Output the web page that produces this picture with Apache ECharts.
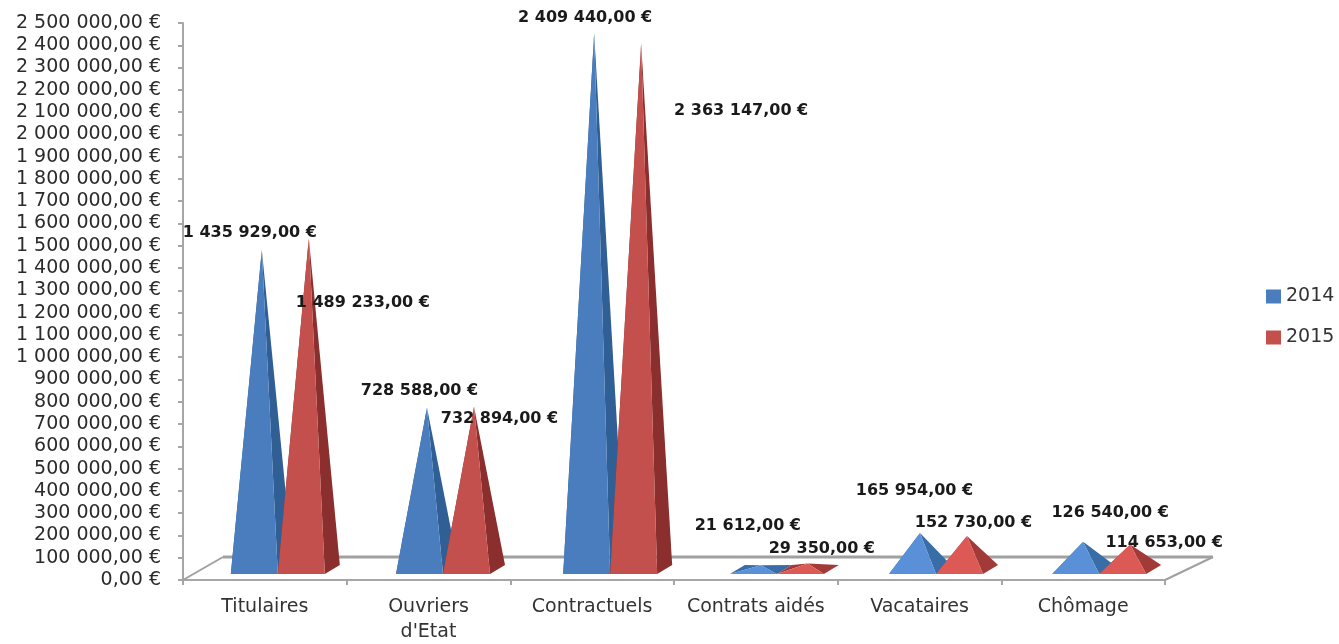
<!DOCTYPE html>
<html>
<head>
<meta charset="utf-8">
<style>html,body{margin:0;padding:0;background:#fff}#c{width:1339px;height:644px}</style>
<script src="https://cdn.jsdelivr.net/npm/echarts@6/dist/echarts.min.js"></script>
</head>
<body>
<div id="c"></div>
<script>
const categories = ['Titulaires', "Ouvriers\nd'Etat", 'Contractuels', 'Contrats aidés', 'Vacataires', 'Chômage'];
const values2014 = [1435929, 728588, 2409440, 21612, 165954, 126540];
const values2015 = [1489233, 732894, 2363147, 29350, 152730, 114653];
// label displacement from (band centre, value height), in px
const labelShift2014 = [[-15, -27], [-9, -27], [-7, -25], [-8, -49], [-5, -52], [27, -39]];
const labelShift2015 = [[98, 55], [71, 2], [149, 57], [66, -25], [54, -23], [81, -12]];
// pyramid pair displacement from band centre, in px
const baseShift = [13, 14.5, 18, 21, 16.5, 16];

const FONT = '"DejaVu Sans"';
const money = v => {
  const s = String(Math.round(v)).replace(/\B(?=(\d{3})+(?!\d))/g, ' ');
  return s + ',00 €';
};

const pal = {
  blue: {front: '#4a7dbd', side: '#2f5f95', frontLow: '#5a90d8', sideLow: '#386da8'},
  red: {front: '#c4504d', side: '#8a2f2d', frontLow: '#dd5955', sideLow: '#a23a38'}
};

function pyramid(p, side) {
  return function (params, api) {
    const c = api.coord([api.value(0), api.value(1)]);
    const v = api.value(1);
    const w = 47, dep = 15, h = 9;
    const base = c[0] + baseShift[params.dataIndex];
    const xl = side < 0 ? base - w : base;
    const xr = xl + w;
    const yf = api.coord([0, 0])[1] - 6;
    const yb = yf - h;
    const ax = xl + w / 2 + dep / 2;
    const ay = c[1] - 10;
    const low = v < 300000;
    const front = low ? p.frontLow : p.front;
    const sd = low ? p.sideLow : p.side;
    return {
      type: 'group',
      children: [
        {type: 'polygon', shape: {points: [[xl, yf], [xl + dep, yb], [ax, ay]]}, style: {fill: sd}},
        {type: 'polygon', shape: {points: [[xr, yf], [xr + dep, yb], [ax, ay]]}, style: {fill: sd}},
        {type: 'polygon', shape: {points: [[xl, yf], [xr, yf], [ax, ay]]}, style: {fill: front}}
      ]
    };
  };
}

function labelItem(shifts) {
  return function (params, api) {
    const c = api.coord([api.value(0), api.value(1)]);
    const s = shifts[params.dataIndex];
    return {
      type: 'text',
      style: {
        x: c[0] + s[0], y: c[1] + s[1],
        text: money(api.value(1)),
        fill: '#1a1a1a', font: 'bold 16px ' + FONT,
        align: 'center', verticalAlign: 'middle'
      }
    };
  };
}

function floorItem(params, api) {
  const g = params.coordSys;
  const y0 = g.y + g.height, x0 = g.x, x1 = g.x + g.width;
  const back = y0 - 23;
  const lineStyle = w => ({stroke: '#a0a0a0', lineWidth: w, fill: null});
  return {
    type: 'group',
    children: [
      {type: 'polyline', shape: {points: [[x0, y0], [x0 + 40, back]]}, style: lineStyle(2)},
      {type: 'polyline', shape: {points: [[x0 + 40, back], [x1 + 48, back]]}, style: lineStyle(3)},
      {type: 'polyline', shape: {points: [[x1 + 48, back], [x1, y0]]}, style: lineStyle(2)}
    ]
  };
}

const pts = a => a.map((v, i) => [i, v]);
const chart = echarts.init(document.getElementById('c'), null, {renderer: 'canvas'});
chart.setOption({
  animation: false,
  backgroundColor: '#fff',
  grid: {left: 183, right: 174, top: 23, bottom: 64, containLabel: false, outerBoundsMode: 'none'},
  legend: {
    orient: 'vertical', left: 1261, top: 282, itemWidth: 15, itemHeight: 14, itemGap: 22,
    icon: 'rect', data: ['2014', '2015'],
    textStyle: {fontFamily: FONT, fontSize: 19, color: '#333'}
  },
  xAxis: {
    type: 'category', data: categories,
    axisLine: {lineStyle: {color: '#a6a6a6', width: 2}},
    axisTick: {show: true, alignWithLabel: false, length: 5, lineStyle: {color: '#a6a6a6', width: 2}},
    axisLabel: {fontFamily: FONT, fontSize: 19, color: '#333', margin: 15, lineHeight: 25, interval: 0}
  },
  yAxis: {
    type: 'value', min: 0, max: 2500000, interval: 100000,
    axisLine: {show: true, lineStyle: {color: '#a6a6a6', width: 2}},
    axisTick: {show: true, length: 5, lineStyle: {color: '#a6a6a6', width: 2}},
    splitLine: {show: false},
    axisLabel: {fontFamily: FONT, fontSize: 19, color: '#2b2b2b', margin: 22, formatter: money, showMinLabel: true, showMaxLabel: true}
  },
  series: [
    {type: 'custom', name: 'floor', z: 1, silent: true, renderItem: floorItem, data: [[0, 0]], encode: {x: 0, y: 1}},
    {type: 'custom', name: '2014', z: 2, itemStyle: {color: '#4a7dbd'}, renderItem: pyramid(pal.blue, -1), data: pts(values2014), encode: {x: 0, y: 1}},
    {type: 'custom', name: '2015', z: 3, itemStyle: {color: '#c4504d'}, renderItem: pyramid(pal.red, 1), data: pts(values2015), encode: {x: 0, y: 1}},
    {type: 'custom', name: 'labels2014', z: 4, silent: true, renderItem: labelItem(labelShift2014), data: pts(values2014), encode: {x: 0, y: 1}},
    {type: 'custom', name: 'labels2015', z: 4, silent: true, renderItem: labelItem(labelShift2015), data: pts(values2015), encode: {x: 0, y: 1}}
  ]
});
</script>
</body>
</html>
